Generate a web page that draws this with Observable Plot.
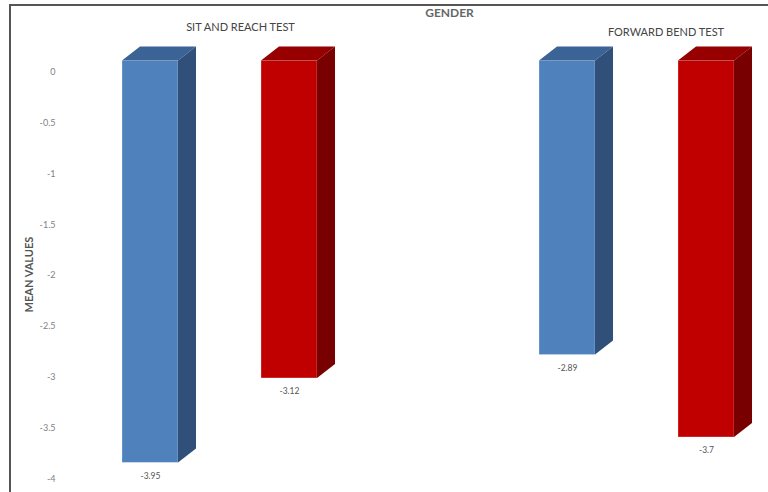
<!DOCTYPE html>
<html>
<head>
<meta charset="utf-8">
<script src="https://cdn.jsdelivr.net/npm/d3@7"></script>
<script src="https://cdn.jsdelivr.net/npm/@observablehq/plot@0.6"></script>
<style>
  html, body { margin: 0; padding: 0; background: #fff; }
  #wrap { position: relative; width: 768px; height: 492px; overflow: hidden; font-family: Lato, "Open Sans", sans-serif; }
  #wrap svg { position: absolute; left: 0; top: 0; }
  #frame { position: absolute; left: 9px; top: 4px; width: 800px; height: 520px;
           border-top: 2px solid #555; border-left: 2px solid #555; pointer-events: none; }
</style>
</head>
<body>
<div id="wrap"><div id="frame"></div></div>
<script>
// ---- data ----
const tests = ["SIT AND REACH TEST", "FORWARD BEND TEST"];
const genders = ["Male", "Female"];
const sitReachValues = [-3.95, -3.12];
const forwardBendValues = [-2.89, -3.7];
const yTicks = [0, -0.5, -1, -1.5, -2, -2.5, -3, -3.5, -4];
const chartTitle = "GENDER";
const yLabel = "MEAN VALUES";

// ---- styles ----
const frontColors = ["#4F81BD", "#C00000"];
const topColors = ["#3B6396", "#960000"];
const sideColors = ["#30507A", "#780000"];
const DEPTH_X = 18, DEPTH_Y = 14;

const rows = [];
[sitReachValues, forwardBendValues].forEach((vals, t) => {
  vals.forEach((v, g) => rows.push({test: tests[t], gender: genders[g], value: v}));
});

const plot = Plot.plot({
  width: 768,
  height: 492,
  marginTop: 71.5,
  marginBottom: 13.5,
  marginLeft: 119.5,
  marginRight: 31.5,
  style: {fontFamily: "Lato, 'Open Sans', sans-serif", background: "transparent"},
  fx: {domain: tests, paddingInner: 0.5204, paddingOuter: 0, round: false, axis: null, label: null},
  x: {domain: genders, paddingInner: 0.597, paddingOuter: 0.0179, round: false, axis: null, label: null},
  y: {domain: [-4, 0], axis: null},
  color: {domain: genders, range: frontColors},
  marks: [
    Plot.axisY({
      ticks: yTicks,
      tickFormat: d => String(d),
      tickSize: 0,
      tickPadding: 0,
      dx: -64.5,
      fontSize: 9,
      color: "#7f7f7f",
      label: null
    }),
    Plot.barY(rows, {
      fx: "test", x: "gender", y: "value", fill: "gender",
      dy: -11,
      stroke: "#ffffff", strokeOpacity: 0.35, strokeWidth: 0.8
    }),
    Plot.text(rows, {
      fx: "test", x: "gender", y: "value", text: d => String(d.value),
      dy: 2, fontSize: 8.5, fill: "#555"
    }),
    Plot.text([tests[0]], {
      fx: d => d, text: d => d, frameAnchor: "top", lineAnchor: "middle",
      dx: 20.5, dy: -45, fontSize: 11, fill: "#444"
    }),
    Plot.text([tests[1]], {
      fx: d => d, text: d => d, frameAnchor: "top", lineAnchor: "middle",
      dx: 29, dy: -40, fontSize: 11, fill: "#444"
    }),
    Plot.text([chartTitle], {
      fx: () => tests[0], text: d => d, frameAnchor: "top", lineAnchor: "middle",
      dx: 229.5, dy: -59, fontSize: 12, fontWeight: "bold", fill: "#666"
    }),
    Plot.text([yLabel], {
      fx: () => tests[0], text: d => d, frameAnchor: "left", textAnchor: "middle",
      lineAnchor: "middle", rotate: -90,
      dx: -90.5, dy: -1, fontSize: 11, fontWeight: "bold", fill: "#555"
    })
  ]
});

// add the 3-D top and side faces to every front face
const upperFront = frontColors.map(c => c.toUpperCase());
d3.select(plot).selectAll("rect").each(function() {
  const r = d3.select(this);
  let fill = (r.attr("fill") || "").toUpperCase();
  if (!fill && this.parentNode) fill = (d3.select(this.parentNode).attr("fill") || "").toUpperCase();
  const k = upperFront.indexOf(fill);
  if (k < 0) return;
  const x0 = +r.attr("x"), y0 = +r.attr("y");
  const x1 = x0 + (+r.attr("width")), y1 = y0 + (+r.attr("height"));
  const parent = d3.select(this.parentNode);
  parent.append("polygon")
    .attr("points", [[x0, y0], [x1, y0], [x1 + DEPTH_X, y0 - DEPTH_Y], [x0 + DEPTH_X, y0 - DEPTH_Y]].join(" "))
    .attr("fill", topColors[k]).attr("stroke", "none");
  parent.append("polygon")
    .attr("points", [[x1, y0], [x1 + DEPTH_X, y0 - DEPTH_Y], [x1 + DEPTH_X, y1 - DEPTH_Y], [x1, y1]].join(" "))
    .attr("fill", sideColors[k]).attr("stroke", "none");
});

document.getElementById("wrap").insertBefore(plot, document.getElementById("frame"));
</script>
</body>
</html>
